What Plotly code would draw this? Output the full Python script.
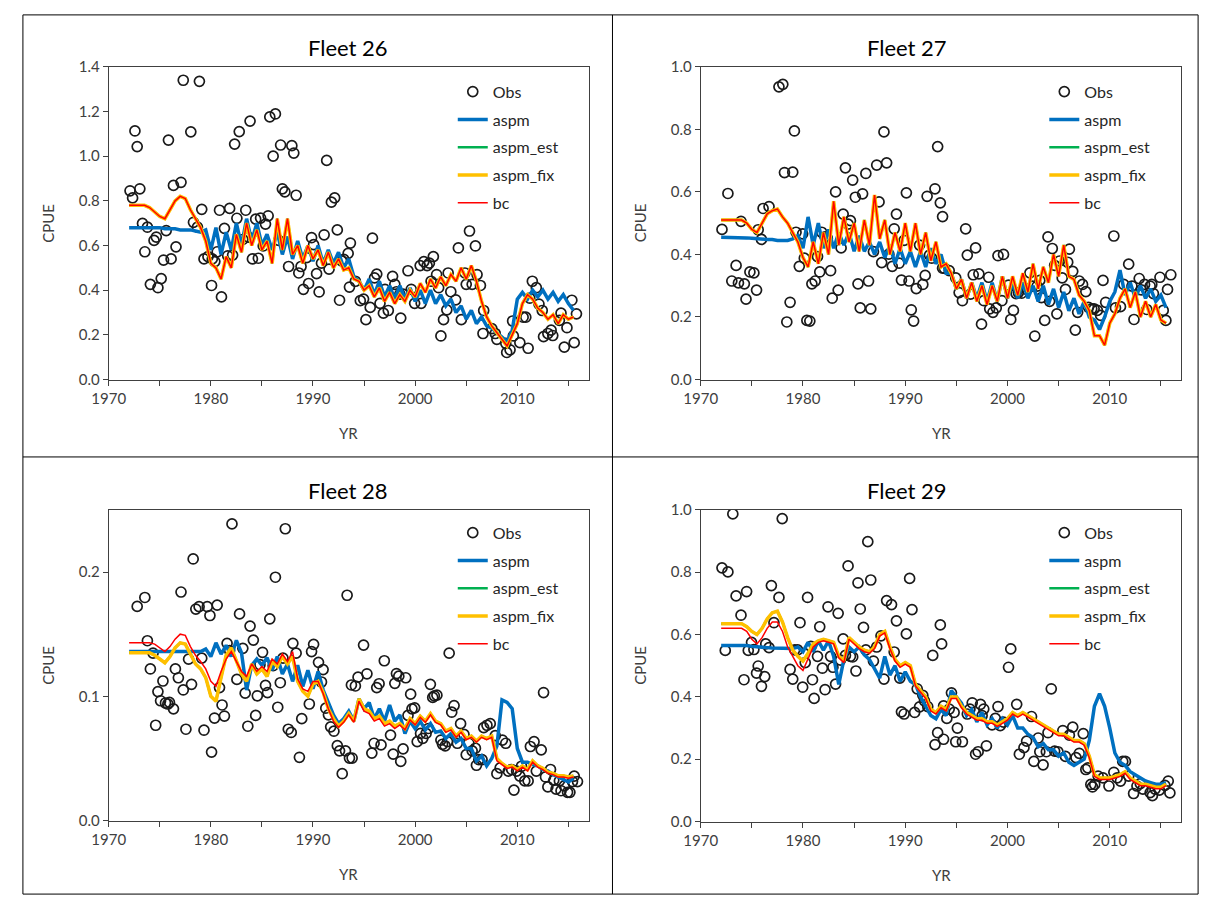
import plotly.graph_objects as go

W, H = 1205, 906

# semi-annual model time grid 1972.0 ... 2015.5
grid = [1972.0 + 0.5 * i for i in range(88)]

# ---------------- Fleet 26 ----------------
obs26_yr = [1972.09, 1972.34, 1973.05, 1972.57, 1972.79, 1973.31, 1973.79, 1973.54, 1974.08, 1974.82,
            1975.14, 1974.44, 1974.66, 1975.37, 1975.63, 1976.11, 1975.85, 1976.34, 1977.08, 1976.59,
            1977.30, 1978.88, 1978.04, 1978.30, 1978.69, 1979.11, 1979.33, 1979.72, 1980.14, 1980.39,
            1980.07, 1981.04, 1980.62, 1980.85, 1981.84, 1981.33, 1981.65, 1982.13, 1982.33, 1982.78,
            1983.84, 1982.55, 1983.13, 1983.68, 1983.42, 1984.07, 1984.65, 1984.39, 1984.87, 1985.35,
            1985.61, 1985.13, 1985.77, 1986.32, 1986.10, 1986.83, 1987.93, 1988.12, 1986.64, 1987.00,
            1987.25, 1988.35, 1987.61, 1988.61, 1988.83, 1989.06, 1989.57, 1989.38, 1989.86, 1990.06,
            1990.35, 1990.60, 1990.83, 1991.09, 1991.34, 1991.57, 1991.80, 1992.12, 1992.38, 1992.60,
            1992.80, 1993.02, 1993.44, 1993.57, 1993.66,
            1994.15, 1994.63, 1994.95, 1995.18, 1995.60, 1995.82, 1996.02, 1996.24, 1996.56, 1996.89,
            1997.05, 1997.37, 1997.79, 1998.01, 1998.17, 1998.50, 1998.59, 1998.82, 1999.30, 1999.62,
            1999.95, 2000.59, 2000.49, 2000.85, 2001.17, 2001.39, 2001.78, 2001.56, 2002.10, 2002.30,
            2002.52, 2002.78, 2003.10, 2003.23, 2003.49, 2003.97, 2004.23, 2004.52, 2004.87, 2005.00,
            2005.32, 2005.58, 2005.90, 2006.06, 2006.39, 2006.64, 2006.71, 2007.51, 2007.84, 2008.00,
            2008.87, 2008.96, 2009.29, 2009.54, 2009.61, 2010.25, 2010.57, 2010.83, 2011.06, 2011.47,
            2011.86, 2011.22, 2012.12, 2012.44, 2012.57, 2012.99, 2013.31, 2013.47, 2014.12, 2014.28,
            2014.60, 2014.86, 2015.34, 2015.57, 2015.79]
obs26 = [0.845, 0.813, 0.854, 1.113, 1.043, 0.699, 0.682, 0.572, 0.426, 0.411,
         0.452, 0.623, 0.638, 0.535, 0.667, 0.540, 1.072, 0.869, 0.883, 0.594,
         1.340, 1.335, 1.109, 0.704, 0.682, 0.762, 0.540, 0.550, 0.540, 0.528,
         0.421, 0.370, 0.572, 0.758, 0.766, 0.677, 0.554, 0.557, 1.054, 1.110,
         1.157, 0.722, 0.627, 0.638, 0.758, 0.540, 0.543, 0.718, 0.723, 0.696,
         0.733, 0.598, 1.176, 1.189, 1.000, 1.050, 1.047, 1.014, 0.623, 0.854,
         0.840, 0.825, 0.506, 0.477, 0.506, 0.404, 0.430, 0.546, 0.635, 0.604,
         0.474, 0.392, 0.521, 0.648, 0.981, 0.494, 0.794, 0.813, 0.670, 0.355,
         0.531, 0.538, 0.565, 0.414, 0.611,
         0.440, 0.353, 0.360, 0.268, 0.323, 0.633, 0.455, 0.472, 0.341, 0.297,
         0.404, 0.309, 0.462, 0.426, 0.393, 0.382, 0.275, 0.382, 0.487, 0.404,
         0.341, 0.341, 0.510, 0.528, 0.510, 0.521, 0.550, 0.440, 0.470, 0.411,
         0.195, 0.268, 0.312, 0.477, 0.393, 0.357, 0.589, 0.268, 0.477, 0.426,
         0.665, 0.426, 0.598, 0.470, 0.421, 0.206, 0.309, 0.228, 0.206, 0.180,
         0.162, 0.121, 0.133, 0.262, 0.195, 0.165, 0.279, 0.279, 0.140, 0.440,
         0.411, 0.364, 0.338, 0.309, 0.192, 0.206, 0.221, 0.197, 0.265, 0.297,
         0.145, 0.232, 0.355, 0.165, 0.294]
aspm26 = [0.68, 0.68, 0.68, 0.68, 0.68, 0.68, 0.68, 0.675, 0.675, 0.675, 0.67, 0.67, 0.67, 0.665,
          0.66, 0.67, 0.58, 0.68, 0.56, 0.66, 0.58, 0.70, 0.60, 0.72,
          0.62, 0.70, 0.60, 0.65, 0.58, 0.66, 0.56, 0.64, 0.54, 0.62,
          0.54, 0.60, 0.53, 0.60, 0.52, 0.58, 0.52, 0.57, 0.50, 0.54,
          0.46, 0.44, 0.40, 0.45, 0.38, 0.44, 0.37, 0.42, 0.36, 0.42,
          0.36, 0.41, 0.35, 0.40, 0.34, 0.40, 0.34, 0.38, 0.33, 0.36,
          0.30, 0.33, 0.27, 0.31, 0.25, 0.28, 0.24, 0.23, 0.21, 0.19,
          0.17, 0.22, 0.36, 0.39, 0.36, 0.40, 0.37, 0.40, 0.36, 0.39,
          0.35, 0.38, 0.34, 0.31]
fix26 = [0.78, 0.78, 0.78, 0.78, 0.77, 0.75,
         0.73, 0.72, 0.76, 0.80, 0.82, 0.81, 0.76, 0.72, 0.68, 0.62,
         0.52, 0.50, 0.45, 0.55, 0.50, 0.65, 0.57, 0.70, 0.60, 0.67,
         0.58, 0.62, 0.52, 0.72, 0.58, 0.72, 0.56, 0.60, 0.52, 0.60,
         0.54, 0.58, 0.51, 0.57, 0.50, 0.54, 0.49, 0.50, 0.45, 0.44,
         0.40, 0.42, 0.37, 0.41, 0.35, 0.39, 0.34, 0.38, 0.35, 0.40,
         0.37, 0.43, 0.39, 0.45, 0.41, 0.46, 0.42, 0.47, 0.44, 0.50,
         0.45, 0.51, 0.44, 0.35, 0.28, 0.24, 0.21, 0.18, 0.15, 0.20,
         0.25, 0.34, 0.38, 0.36, 0.32, 0.30, 0.27, 0.29, 0.25, 0.29,
         0.27, 0.28]
est26 = list(fix26)   # aspm_est coincides with aspm_fix
bc26 = list(fix26)    # bc coincides with aspm_fix

# ---------------- Fleet 27 ----------------
obs27_yr = [1972.08, 1972.66, 1973.04, 1973.46, 1973.69, 1973.94, 1974.27, 1974.43, 1974.81, 1975.20,
            1975.46, 1975.62, 1975.94, 1976.10, 1976.68, 1977.65, 1978.03, 1978.19, 1979.00, 1979.16,
            1978.42, 1978.74, 1979.32, 1979.64, 1979.97, 1980.13, 1980.38, 1980.67, 1980.87, 1981.19,
            1981.42, 1981.64, 1981.83, 1982.16, 1982.38, 1982.70, 1982.86, 1983.19, 1983.44, 1983.73,
            1983.93, 1984.15, 1984.41, 1984.64, 1984.86, 1985.12, 1985.38, 1985.60, 1985.83, 1986.15,
            1986.41, 1986.63, 1986.89, 1987.21, 1987.44, 1987.70, 1987.92, 1988.18, 1988.40, 1988.73,
            1988.92, 1989.14, 1989.40, 1989.63, 1989.89, 1990.11, 1990.37, 1990.59, 1990.82, 1991.08,
            1991.40, 1991.72, 1991.95, 1992.14, 1992.37, 1992.59, 1992.91, 1993.17, 1993.43, 1993.65,
            1993.65,
            1993.82, 1994.30, 1994.94, 1995.27, 1995.59, 1995.91, 1996.07, 1996.39, 1996.65, 1996.88,
            1997.20, 1997.46, 1997.68, 1998.16, 1998.26, 1998.58, 1998.90, 1999.07, 1999.45, 1999.61,
            2000.10, 2000.32, 2000.58, 2000.84, 2001.06, 2001.38, 2001.87, 2002.19, 2002.45, 2002.67,
            2002.90, 2003.16, 2003.32, 2003.64, 2003.96, 2004.12, 2004.38, 2004.61, 2004.83, 2005.09,
            2005.35, 2005.67, 2005.89, 2006.05, 2006.38, 2006.63, 2006.86, 2007.02, 2007.34, 2007.66,
            2007.92, 2008.24, 2008.47, 2008.79, 2009.11, 2009.34, 2009.60, 2010.40, 2010.56, 2011.05,
            2011.37, 2011.85, 2012.17, 2012.37, 2012.88, 2013.08, 2013.40, 2013.62, 2013.95, 2014.11,
            2014.27, 2014.91, 2015.23, 2015.49, 2015.65, 2015.97]
obs27 = [0.480, 0.595, 0.315, 0.365, 0.309, 0.506, 0.306, 0.257, 0.344, 0.341,
         0.286, 0.479, 0.448, 0.547, 0.553, 0.936, 0.944, 0.662, 0.663, 0.795,
         0.184, 0.247, 0.471, 0.362, 0.466, 0.388, 0.189, 0.187, 0.306, 0.315,
         0.393, 0.344, 0.471, 0.456, 0.452, 0.348, 0.260, 0.600, 0.286, 0.421,
         0.529, 0.677, 0.497, 0.508, 0.638, 0.583, 0.306, 0.229, 0.594, 0.659,
         0.315, 0.226, 0.409, 0.686, 0.568, 0.374, 0.792, 0.693, 0.401, 0.362,
         0.482, 0.529, 0.372, 0.318, 0.445, 0.597, 0.315, 0.223, 0.187, 0.291,
         0.430, 0.304, 0.333, 0.586, 0.398, 0.388, 0.610, 0.745, 0.565, 0.521,
         0.356,
         0.356, 0.348, 0.325, 0.278, 0.252, 0.482, 0.398, 0.273, 0.335, 0.421,
         0.338, 0.177, 0.252, 0.327, 0.226, 0.215, 0.229, 0.396, 0.252, 0.400,
         0.302, 0.192, 0.221, 0.275, 0.278, 0.276, 0.288, 0.341, 0.299, 0.139,
         0.299, 0.317, 0.262, 0.189, 0.456, 0.250, 0.419, 0.365, 0.210, 0.379,
         0.325, 0.288, 0.375, 0.417, 0.346, 0.158, 0.215, 0.315, 0.304, 0.281,
         0.231, 0.226, 0.226, 0.221, 0.205, 0.317, 0.247, 0.459, 0.229, 0.233,
         0.304, 0.369, 0.299, 0.192, 0.323, 0.287, 0.304, 0.224, 0.299, 0.304,
         0.275, 0.327, 0.221, 0.189, 0.288, 0.335]
aspm27 = [0.455, 0.455, 0.455, 0.455, 0.455, 0.453, 0.452, 0.450, 0.450, 0.448, 0.448, 0.445, 0.445, 0.445,
          0.45, 0.46, 0.42, 0.52, 0.43, 0.50, 0.42, 0.48, 0.42, 0.47,
          0.43, 0.47, 0.41, 0.46, 0.41, 0.44, 0.40, 0.44, 0.39, 0.43,
          0.37, 0.42, 0.37, 0.41, 0.36, 0.41, 0.36, 0.42, 0.37, 0.40,
          0.34, 0.34, 0.29, 0.32, 0.26, 0.31, 0.26, 0.31, 0.25, 0.31,
          0.25, 0.33, 0.26, 0.31, 0.26, 0.31, 0.26, 0.30, 0.25, 0.30,
          0.24, 0.29, 0.23, 0.28, 0.22, 0.26, 0.21, 0.25, 0.20, 0.19,
          0.16, 0.20, 0.25, 0.28, 0.35, 0.27, 0.31, 0.26, 0.30, 0.26,
          0.29, 0.25, 0.27, 0.23]
fix27 = [0.51, 0.51, 0.51, 0.51, 0.51,
         0.50, 0.48, 0.47, 0.50, 0.53, 0.54, 0.545, 0.52, 0.50,
         0.47, 0.44, 0.39, 0.36, 0.44, 0.37, 0.47, 0.40, 0.57, 0.43,
         0.52, 0.44, 0.50, 0.41, 0.51, 0.43, 0.59, 0.45, 0.51, 0.40,
         0.47, 0.41, 0.50, 0.41, 0.50, 0.40, 0.47, 0.38, 0.44, 0.36,
         0.37, 0.34, 0.29, 0.32, 0.26, 0.31, 0.25, 0.30, 0.24, 0.30,
         0.25, 0.33, 0.26, 0.33, 0.27, 0.34, 0.28, 0.37, 0.29, 0.36,
         0.31, 0.40, 0.33, 0.43, 0.33, 0.32, 0.27, 0.25, 0.22, 0.14,
         0.14, 0.11, 0.18, 0.21, 0.26, 0.29, 0.23, 0.28, 0.20, 0.25,
         0.20, 0.24, 0.19, 0.18]
est27 = list(fix27)
bc27 = list(fix27)

# ---------------- Fleet 28 ----------------
obs28_yr = [1972.79, 1973.54, 1973.79, 1974.08, 1974.34, 1974.60, 1974.82, 1975.08, 1975.31, 1975.56,
            1975.79, 1975.95, 1976.34, 1976.53, 1976.82, 1977.08, 1977.30, 1977.56, 1977.82, 1978.11,
            1978.27, 1978.53, 1978.85, 1979.11, 1979.33, 1979.65, 1979.91, 1980.07, 1980.36, 1980.62,
            1980.85, 1981.10, 1981.33, 1981.59, 1981.84, 1982.07, 1982.55, 1982.81, 1983.13, 1983.36,
            1983.62, 1983.84, 1984.16, 1984.39, 1984.55, 1984.81, 1985.06, 1985.35, 1985.55, 1985.77,
            1986.10, 1986.32, 1986.55, 1986.80, 1987.06, 1987.29, 1987.58, 1987.87, 1988.03, 1988.35,
            1988.67, 1988.90, 1989.64, 1989.86, 1990.06, 1990.54, 1990.83, 1990.99, 1991.25, 1991.51,
            1991.73, 1992.05, 1992.38, 1992.60, 1992.86, 1993.18, 1993.34, 1993.57, 1993.76, 1993.83,
            1994.15, 1994.41, 1994.95, 1995.28, 1995.76, 1995.98, 1996.24, 1996.47, 1996.66, 1996.98,
            1997.59, 1997.85, 1998.01, 1998.17, 1998.40, 1998.59, 1998.82, 1999.08, 1999.30, 1999.56,
            1999.69, 1999.95, 2000.20, 2000.53, 2000.75, 2001.07, 2001.30, 2001.49, 2001.72, 2001.88,
            2002.13, 2002.52, 2002.68, 2002.94, 2003.17, 2003.33, 2003.58, 2003.81, 2004.13, 2004.45,
            2004.78, 2005.00, 2005.26, 2005.58, 2005.90, 2006.00, 2006.23, 2006.55, 2006.71, 2007.03,
            2007.35, 2007.84, 2008.00, 2008.32, 2008.54, 2008.87, 2009.12, 2009.45, 2009.67, 2009.93,
            2010.25, 2010.41, 2010.73, 2011.06, 2011.28, 2011.64, 2011.86, 2012.34, 2012.57, 2012.76,
            2012.99, 2013.25, 2013.57, 2013.79, 2014.12, 2014.28, 2014.60, 2014.92, 2015.15, 2015.40,
            2015.57, 2015.89]
obs28 = [0.1723, 0.1795, 0.1447, 0.1220, 0.1347, 0.0767, 0.1038, 0.0964, 0.1123, 0.0946,
         0.0938, 0.0951, 0.0899, 0.1220, 0.1149, 0.1839, 0.1051, 0.0735, 0.1299, 0.1096,
         0.2105, 0.1702, 0.1721, 0.1307, 0.0727, 0.1721, 0.1650, 0.0551, 0.0825, 0.1734,
         0.1070, 0.0930, 0.0841, 0.1426, 0.1368, 0.2387, 0.1136, 0.1663, 0.1386, 0.1025,
         0.0759, 0.1565, 0.1452, 0.0846, 0.1004, 0.1254, 0.1354, 0.1088, 0.1030, 0.1623,
         0.1246, 0.1958, 0.0912, 0.1109, 0.1307, 0.2348, 0.0735, 0.0709, 0.1426, 0.1347,
         0.0509, 0.0820, 0.0938, 0.1360, 0.1418, 0.1273, 0.1115, 0.1215, 0.0904, 0.0851,
         0.0754, 0.0719, 0.0603, 0.0561, 0.0377, 0.0561, 0.1813, 0.0503, 0.1091, 0.0503,
         0.1083, 0.1154, 0.1412, 0.1181, 0.0543, 0.0622, 0.1070, 0.1101, 0.0609, 0.1286,
         0.0688, 0.0535, 0.1104, 0.1183, 0.1162, 0.0477, 0.0577, 0.1149, 0.0846, 0.1017,
         0.0899, 0.0907, 0.0635, 0.0701, 0.0662, 0.0701, 0.0741, 0.1096, 0.0991, 0.1004,
         0.1009, 0.0648, 0.0614, 0.0601, 0.0635, 0.1347, 0.0872, 0.0925, 0.0622, 0.0780,
         0.0693, 0.0530, 0.0622, 0.0561, 0.0582, 0.0445, 0.0490, 0.0490, 0.0748, 0.0767,
         0.0780, 0.0683, 0.0377, 0.0424, 0.0648, 0.0622, 0.0398, 0.0411, 0.0245, 0.0398,
         0.0358, 0.0437, 0.0319, 0.0319, 0.0596, 0.0635, 0.0398, 0.0569, 0.1030, 0.0351,
         0.0271, 0.0411, 0.0324, 0.0253, 0.0319, 0.0240, 0.0279, 0.0227, 0.0227, 0.0314,
         0.0358, 0.0314]
aspm28 = [0.136, 0.136, 0.136, 0.136, 0.136, 0.136, 0.136, 0.136, 0.136, 0.136, 0.136, 0.136, 0.136, 0.136,
          0.136, 0.138, 0.132, 0.143, 0.134, 0.141, 0.132, 0.145, 0.135, 0.105,
          0.125, 0.130, 0.125, 0.131, 0.121, 0.132, 0.118, 0.126, 0.112, 0.125,
          0.108, 0.121, 0.106, 0.120, 0.105, 0.095, 0.085, 0.078, 0.082, 0.088,
          0.080, 0.098, 0.090, 0.095, 0.082, 0.090, 0.080, 0.093, 0.080, 0.085,
          0.070, 0.080, 0.074, 0.080, 0.073, 0.078, 0.071, 0.072, 0.066, 0.070,
          0.063, 0.066, 0.058, 0.058, 0.048, 0.052, 0.044, 0.050, 0.060, 0.097,
          0.095, 0.090, 0.058, 0.047, 0.047, 0.045, 0.044, 0.041, 0.040, 0.037,
          0.035, 0.033, 0.031, 0.034]
fix28 = [0.135, 0.135, 0.135, 0.135, 0.135,
         0.133, 0.130, 0.127, 0.132, 0.139, 0.143, 0.142, 0.134, 0.126,
         0.122, 0.115, 0.100, 0.096, 0.115, 0.133, 0.139, 0.128, 0.118, 0.112,
         0.126, 0.118, 0.122, 0.116, 0.128, 0.124, 0.132, 0.126, 0.132, 0.112,
         0.104, 0.100, 0.110, 0.112, 0.103, 0.090, 0.082, 0.076, 0.080, 0.086,
         0.080, 0.098, 0.090, 0.088, 0.082, 0.084, 0.078, 0.080, 0.076, 0.078,
         0.074, 0.082, 0.078, 0.084, 0.080, 0.086, 0.080, 0.078, 0.072, 0.074,
         0.068, 0.072, 0.066, 0.068, 0.064, 0.068, 0.066, 0.068, 0.050, 0.046,
         0.043, 0.044, 0.041, 0.044, 0.041, 0.048, 0.044, 0.042, 0.039, 0.038,
         0.036, 0.036, 0.035, 0.036]
est28 = list(fix28)
bc28 = [0.143, 0.143, 0.143, 0.143, 0.143,
        0.142, 0.139, 0.136, 0.140, 0.146, 0.150, 0.149, 0.140, 0.133,
        0.128, 0.122, 0.112, 0.108, 0.120, 0.130, 0.136, 0.128, 0.120, 0.116,
        0.126, 0.120, 0.124, 0.120, 0.130, 0.126, 0.134, 0.128, 0.136, 0.114,
        0.106, 0.104, 0.112, 0.112, 0.102, 0.090, 0.080, 0.075, 0.079, 0.085,
        0.079, 0.096, 0.088, 0.086, 0.080, 0.082, 0.076, 0.078, 0.074, 0.077,
        0.073, 0.081, 0.077, 0.083, 0.079, 0.085, 0.079, 0.077, 0.071, 0.073,
        0.067, 0.071, 0.065, 0.067, 0.063, 0.067, 0.065, 0.067, 0.048, 0.045,
        0.042, 0.043, 0.040, 0.043, 0.040, 0.047, 0.043, 0.041, 0.038, 0.037,
        0.035, 0.035, 0.034, 0.035]

# ---------------- Fleet 29 ----------------
obs29_yr = [1972.08, 1972.40, 1972.66, 1973.14, 1973.46, 1973.94, 1974.23, 1974.49, 1974.65, 1974.97,
            1975.20, 1975.46, 1975.62, 1975.94, 1976.26, 1976.36, 1976.68, 1976.91, 1977.16, 1977.65,
            1977.97, 1978.74, 1979.00, 1979.19, 1979.48, 1979.71, 1979.97, 1980.22, 1980.45, 1980.77,
            1980.93, 1981.09, 1981.42, 1981.64, 1981.90, 1982.16, 1982.45, 1982.70, 1982.93, 1983.19,
            1983.44, 1983.67, 1983.93, 1984.15, 1984.41, 1984.64, 1984.86, 1985.18, 1985.38, 1985.60,
            1985.92, 1986.15, 1986.34, 1986.63, 1986.89, 1987.21, 1987.63, 1987.92, 1988.18, 1988.66,
            1988.92, 1989.14, 1989.47, 1989.63, 1989.89, 1990.11, 1990.43, 1990.66, 1990.92, 1991.17,
            1991.40, 1991.72, 1991.88, 1992.20, 1992.69, 1992.91, 1993.17, 1993.43, 1993.56, 1993.75,
            1993.75,
            1994.07, 1994.30, 1994.52, 1994.78, 1994.94, 1995.10, 1995.59, 1996.07, 1996.33, 1996.55,
            1996.88, 1997.13, 1997.36, 1997.52, 1997.68, 1997.94, 1998.49, 1998.81, 1999.07, 1999.29,
            1999.61, 2000.10, 2000.32, 2000.90, 2001.16, 2001.61, 2001.87, 2002.35, 2002.58, 2003.00,
            2003.16, 2003.48, 2003.80, 2003.96, 2004.28, 2004.61, 2004.93, 2005.41, 2005.67, 2006.05,
            2006.38, 2006.70, 2007.02, 2007.41, 2007.66, 2007.86, 2008.15, 2008.31, 2008.53, 2008.86,
            2009.34, 2009.92, 2010.40, 2010.72, 2011.05, 2011.27, 2011.53, 2011.85, 2012.33, 2012.66,
            2012.98, 2013.24, 2013.95, 2014.17, 2014.43, 2014.85, 2015.39, 2015.72, 2015.88]
obs29 = [0.814, 0.549, 0.801, 0.987, 0.724, 0.662, 0.455, 0.738, 0.549, 0.575,
         0.552, 0.476, 0.499, 0.434, 0.465, 0.570, 0.558, 0.757, 0.638, 0.719,
         0.972, 0.488, 0.457, 0.551, 0.551, 0.638, 0.431, 0.510, 0.719, 0.562,
         0.455, 0.395, 0.530, 0.625, 0.492, 0.423, 0.689, 0.530, 0.495, 0.441,
         0.668, 0.518, 0.586, 0.533, 0.820, 0.530, 0.528, 0.483, 0.766, 0.682,
         0.623, 0.551, 0.898, 0.775, 0.515, 0.560, 0.596, 0.457, 0.709, 0.696,
         0.544, 0.644, 0.460, 0.352, 0.345, 0.602, 0.780, 0.680, 0.350, 0.426,
         0.368, 0.405, 0.387, 0.369, 0.533, 0.247, 0.285, 0.631, 0.570, 0.371,
         0.264,
         0.331, 0.361, 0.413, 0.350, 0.256, 0.300, 0.256, 0.345, 0.361, 0.381,
         0.216, 0.224, 0.376, 0.340, 0.361, 0.243, 0.310, 0.331, 0.369, 0.308,
         0.319, 0.495, 0.554, 0.376, 0.216, 0.237, 0.258, 0.337, 0.193, 0.268,
         0.224, 0.182, 0.224, 0.285, 0.426, 0.226, 0.224, 0.292, 0.209, 0.277,
         0.303, 0.205, 0.219, 0.282, 0.167, 0.172, 0.119, 0.111, 0.119, 0.146,
         0.140, 0.114, 0.158, 0.140, 0.130, 0.193, 0.193, 0.146, 0.090, 0.114,
         0.122, 0.104, 0.093, 0.083, 0.104, 0.101, 0.116, 0.130, 0.092]
aspm29 = [0.565, 0.565, 0.565, 0.565, 0.565, 0.565, 0.562, 0.560, 0.560, 0.558, 0.557, 0.556, 0.555, 0.555,
          0.555, 0.56, 0.545, 0.575, 0.545, 0.58, 0.55, 0.58, 0.53, 0.44,
          0.52, 0.56, 0.545, 0.56, 0.535, 0.52, 0.49, 0.46, 0.53, 0.47,
          0.50, 0.45, 0.48, 0.45, 0.44, 0.40, 0.37, 0.34, 0.33, 0.36,
          0.34, 0.42, 0.40, 0.38, 0.34, 0.36, 0.32, 0.35, 0.31, 0.33,
          0.30, 0.33, 0.31, 0.34, 0.30, 0.30, 0.28, 0.27, 0.24, 0.25,
          0.23, 0.23, 0.21, 0.22, 0.19, 0.18, 0.19, 0.20, 0.26, 0.37,
          0.41, 0.37, 0.30, 0.22, 0.19, 0.18, 0.16, 0.15, 0.14, 0.13,
          0.125, 0.12, 0.12, 0.125]
fix29 = [0.635, 0.635, 0.635, 0.635, 0.635,
         0.625, 0.61, 0.60, 0.62, 0.65, 0.67, 0.675, 0.64, 0.59,
         0.55, 0.53, 0.515, 0.54, 0.57, 0.58, 0.585, 0.58, 0.575, 0.53,
         0.515, 0.59, 0.575, 0.56, 0.55, 0.545, 0.56, 0.60, 0.61, 0.56,
         0.52, 0.50, 0.51, 0.50, 0.44, 0.42, 0.40, 0.36, 0.35, 0.37,
         0.36, 0.40, 0.40, 0.37, 0.35, 0.34, 0.33, 0.33, 0.32, 0.32,
         0.31, 0.32, 0.33, 0.35, 0.34, 0.35, 0.34, 0.33, 0.32, 0.31,
         0.30, 0.29, 0.28, 0.28, 0.27, 0.26, 0.26, 0.25, 0.21, 0.15,
         0.14, 0.14, 0.14, 0.145, 0.15, 0.16, 0.14, 0.13, 0.12, 0.12,
         0.115, 0.11, 0.11, 0.12]
est29 = list(fix29)
bc29 = [0.62, 0.62, 0.62, 0.62, 0.62,
        0.61, 0.585, 0.57, 0.59, 0.62, 0.64, 0.64, 0.61, 0.56,
        0.53, 0.50, 0.485, 0.52, 0.56, 0.575, 0.58, 0.575, 0.57, 0.525,
        0.51, 0.585, 0.57, 0.555, 0.545, 0.54, 0.555, 0.595, 0.605, 0.555,
        0.515, 0.495, 0.505, 0.495, 0.435, 0.415, 0.395, 0.355, 0.345, 0.365,
        0.355, 0.395, 0.395, 0.365, 0.345, 0.335, 0.325, 0.325, 0.315, 0.315,
        0.305, 0.315, 0.325, 0.345, 0.335, 0.345, 0.335, 0.325, 0.315, 0.305,
        0.295, 0.285, 0.275, 0.275, 0.265, 0.255, 0.255, 0.245, 0.205, 0.145,
        0.135, 0.135, 0.135, 0.14, 0.145, 0.155, 0.135, 0.125, 0.115, 0.115,
        0.11, 0.105, 0.105, 0.115]

x_tickvals = [1970, 1975, 1980, 1985, 1990, 1995, 2000, 2005, 2010, 2015]
x_ticktext = ["1970", "", "1980", "", "1990", "", "2000", "", "2010", ""]

panels = [
    dict(title="Fleet 26", ox=obs26_yr, oy=obs26, aspm=aspm26, est=est26, fix=fix26, bc=bc26,
         box=(93, 580, 58, 377), yrange=[0, 1.4], yticks=[0, 0.2, 0.4, 0.6, 0.8, 1.0, 1.2, 1.4],
         tx=336, ty=38, cx=32, leg=(442, 66)),
    dict(title="Fleet 27", ox=obs27_yr, oy=obs27, aspm=aspm27, est=est27, fix=fix27, bc=bc27,
         box=(693.5, 1181, 58, 377), yrange=[0, 1.0], yticks=[0, 0.2, 0.4, 0.6, 0.8, 1.0],
         tx=903, ty=38, cx=632, leg=(1042, 66)),
    dict(title="Fleet 28", ox=obs28_yr, oy=obs28, aspm=aspm28, est=est28, fix=fix28, bc=bc28,
         box=(93, 580, 510, 827), yrange=[0, 0.25], yticks=[0, 0.1, 0.2],
         tx=336, ty=490, cx=32, leg=(442, 516)),
    dict(title="Fleet 29", ox=obs29_yr, oy=obs29, aspm=aspm29, est=est29, fix=fix29, bc=bc29,
         box=(693.5, 1181, 510, 828), yrange=[0, 1.0], yticks=[0, 0.2, 0.4, 0.6, 0.8, 1.0],
         tx=903, ty=490, cx=632, leg=(1042, 516)),
]

FONT = "Lato, 'Open Sans', 'DejaVu Sans', sans-serif"
AX = "#404040"

fig = go.Figure()
layout = dict(width=W, height=H, margin=dict(l=0, r=0, t=0, b=0),
              paper_bgcolor="white", plot_bgcolor="white",
              font=dict(family=FONT, size=15, color=AX), showlegend=True)
annotations = []
shapes = []

for k, p in enumerate(panels):
    sfx = "" if k == 0 else str(k + 1)
    xa, ya = "x" + sfx, "y" + sfx
    legname = "legend" + sfx
    x0, x1, y0, y1 = p["box"]
    layout["xaxis" + sfx] = dict(
        domain=[x0 / W, x1 / W], anchor=ya, range=[1970, 2017],
        tickvals=x_tickvals, ticktext=x_ticktext, ticks="outside", ticklen=5,
        tickcolor=AX, showline=True, mirror=True, linecolor=AX, linewidth=1,
        showgrid=False, zeroline=False, tickfont=dict(size=15, color=AX))
    layout["yaxis" + sfx] = dict(
        domain=[1 - y1 / H, 1 - y0 / H], anchor=xa, range=p["yrange"],
        tickvals=p["yticks"], tickformat=".1f", ticks="outside", ticklen=5,
        tickcolor=AX, showline=True, mirror=True, linecolor=AX, linewidth=1,
        showgrid=False, zeroline=False, tickfont=dict(size=15, color=AX))
    layout[legname] = dict(
        x=p["leg"][0] / W, y=1 - p["leg"][1] / H, xanchor="left", yanchor="top",
        bgcolor="rgba(0,0,0,0)", font=dict(size=16, color="#262626"),
        traceorder="grouped", tracegroupgap=4)

    common = dict(xaxis=xa, yaxis=ya, legend=legname)
    fig.add_trace(go.Scatter(x=p["ox"], y=p["oy"], mode="markers", name="Obs",
                             marker=dict(symbol="circle-open", size=10, color="#1a1a1a",
                                         line=dict(width=1.7, color="#1a1a1a")),
                             legendgroup="obs" + sfx, **common))
    fig.add_trace(go.Scatter(x=grid, y=p["aspm"], mode="lines", name="aspm",
                             line=dict(color="#0070C0", width=3.5),
                             legendgroup="aspm" + sfx, **common))
    fig.add_trace(go.Scatter(x=grid, y=p["est"], mode="lines", name="aspm_est",
                             line=dict(color="#00B050", width=2.5),
                             legendgroup="est" + sfx, **common))
    fig.add_trace(go.Scatter(x=grid, y=p["fix"], mode="lines", name="aspm_fix",
                             line=dict(color="#FFC000", width=3.5),
                             legendgroup="fix" + sfx, **common))
    fig.add_trace(go.Scatter(x=grid, y=p["bc"], mode="lines", name="bc",
                             line=dict(color="#FF0000", width=1.5),
                             legendgroup="bc" + sfx, **common))

    annotations.append(dict(text=p["title"], x=p["tx"] / W, y=1 - p["ty"] / H,
                            xref="paper", yref="paper", showarrow=False,
                            font=dict(size=22, color="#000000"), xanchor="center", yanchor="middle"))
    annotations.append(dict(text="CPUE", x=p["cx"] / W, y=1 - ((y0 + y1) / 2) / H,
                            xref="paper", yref="paper", showarrow=False, textangle=-90,
                            font=dict(size=15, color=AX), xanchor="center", yanchor="middle"))
    annotations.append(dict(text="YR", x=((x0 + x1) / 2) / W, y=1 - (y1 + 55) / H,
                            xref="paper", yref="paper", showarrow=False,
                            font=dict(size=15, color=AX), xanchor="center", yanchor="middle"))

# panel frames
for (a, b, c, d) in [(6, 5, 1198, 5), (6, 902, 1198, 902), (6, 5, 6, 902), (1198, 5, 1198, 902),
                     (604, 5, 604, 902), (6, 456, 1198, 456)]:
    shapes.append(dict(type="line", xref="paper", yref="paper",
                       x0=a / W, y0=1 - b / H, x1=c / W, y1=1 - d / H,
                       line=dict(color="#000000", width=1)))

layout["annotations"] = annotations
layout["shapes"] = shapes
fig.update_layout(**layout)
fig.write_html("out.html", config={"displayModeBar": False},
               post_script="document.body.style.margin='0px';")
